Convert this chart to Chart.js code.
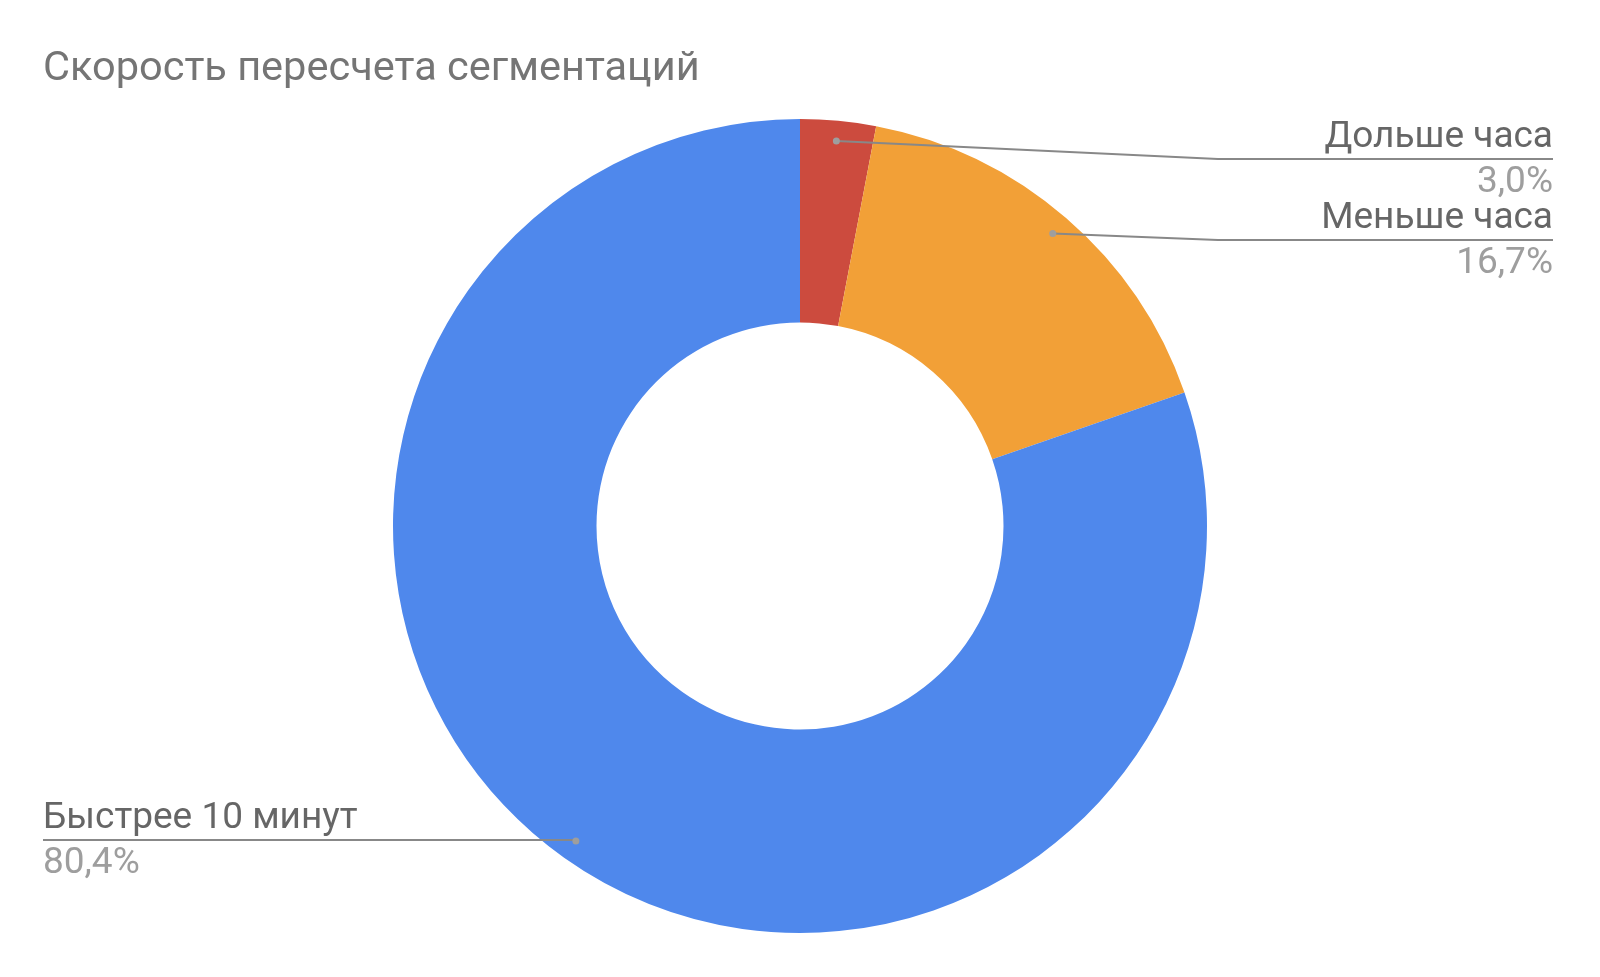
<!DOCTYPE html>
<html>
<head>
<meta charset="utf-8">
<script src="https://cdn.jsdelivr.net/npm/chart.js@4"></script>
<style>
  html, body { margin: 0; padding: 0; background: #fff; }
  #wrap { width: 1600px; height: 977px; }
</style>
</head>
<body>
<div id="wrap"><canvas id="donut"></canvas></div>
<script>
const chartTitle = 'Скорость пересчета сегментаций';
const labels = ['Дольше часа', 'Меньше часа', 'Быстрее 10 минут'];
const values = [3.0, 16.7, 80.4];
const percentText = ['3,0%', '16,7%', '80,4%'];
const colors = ['#cc4b3e', '#f2a037', '#4f88ec'];

// label blocks: right side aligned to x on the right, left side aligned to x on the left
const labelLayout = [
  { side: 'right', x: 1553, lineY: 159, bendX: 1218 },
  { side: 'right', x: 1553, lineY: 240, bendX: 1218 },
  { side: 'left',  x: 43,   lineY: 840, bendX: null }
];

const titlePlugin = {
  id: 'sheetTitle',
  afterDraw(chart) {
    const ctx = chart.ctx;
    ctx.save();
    ctx.font = '41.5px Roboto';
    ctx.fillStyle = '#757575';
    ctx.textAlign = 'left';
    ctx.textBaseline = 'alphabetic';
    ctx.fillText(chartTitle, 43, 80);
    ctx.restore();
  }
};

const leaderPlugin = {
  id: 'leaders',
  afterDatasetsDraw(chart) {
    const ctx = chart.ctx;
    const arcs = chart.getDatasetMeta(0).data;
    ctx.save();
    arcs.forEach((arc, i) => {
      const p = arc.getProps(['x', 'y', 'startAngle', 'endAngle', 'outerRadius'], true);
      const mid = (p.startAngle + p.endAngle) / 2;
      const r = p.outerRadius * 0.95;
      const ax = p.x + Math.cos(mid) * r;
      const ay = p.y + Math.sin(mid) * r;
      const L = labelLayout[i];

      ctx.strokeStyle = '#888888';
      ctx.lineWidth = 2;
      ctx.beginPath();
      ctx.moveTo(ax, ay);
      if (L.side === 'right') {
        ctx.lineTo(L.bendX, L.lineY);
        ctx.lineTo(L.x, L.lineY);
      } else {
        ctx.lineTo(ax, L.lineY);
        ctx.lineTo(L.x, L.lineY);
      }
      ctx.stroke();

      ctx.fillStyle = '#9e9e9e';
      ctx.beginPath();
      ctx.arc(ax, ay, 3.5, 0, Math.PI * 2);
      ctx.fill();

      ctx.textAlign = L.side === 'right' ? 'right' : 'left';
      ctx.textBaseline = 'alphabetic';
      ctx.font = '37px Roboto';
      ctx.fillStyle = '#666666';
      ctx.fillText(labels[i], L.x, L.lineY - 12);
      ctx.fillStyle = '#9e9e9e';
      ctx.fillText(percentText[i], L.x, L.lineY + 33);
    });
    ctx.restore();
  }
};

new Chart(document.getElementById('donut'), {
  type: 'doughnut',
  data: {
    labels: labels,
    datasets: [{
      data: values,
      backgroundColor: colors,
      borderWidth: 0,
      hoverOffset: 0
    }]
  },
  options: {
    responsive: true,
    maintainAspectRatio: false,
    animation: false,
    cutout: '50%',
    layout: { padding: { top: 119, bottom: 44, left: 393, right: 393 } },
    plugins: {
      legend: { display: false },
      tooltip: { enabled: false },
      title: { display: false }
    }
  },
  plugins: [titlePlugin, leaderPlugin]
});
</script>
</body>
</html>
